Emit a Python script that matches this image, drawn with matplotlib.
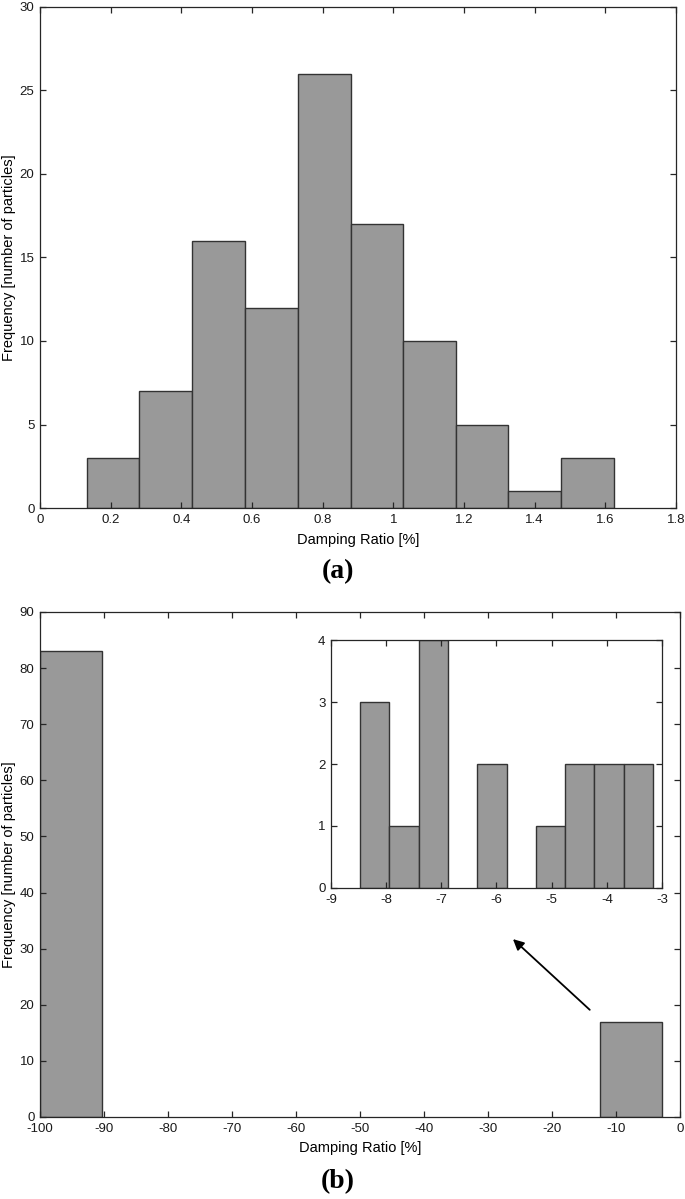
import numpy as np
import matplotlib
matplotlib.use("Agg")
import matplotlib.pyplot as plt

plt.rcParams['font.family'] = ['Liberation Sans', 'DejaVu Sans']
plt.rcParams['axes.unicode_minus'] = False

# (a) positive damping ratios: 10 bins
a_edges = [0.132, 0.281, 0.431, 0.580, 0.729, 0.879, 1.026, 1.177, 1.325, 1.475, 1.625]
a_counts = [3, 7, 16, 12, 26, 17, 10, 5, 1, 3]

# (b) negative damping ratios: 10 bins, only first and last filled
b_edges = [-100.0, -90.28, -80.56, -70.84, -61.12, -51.40, -41.68, -31.96, -22.24, -12.52, -2.8]
b_counts = [83, 0, 0, 0, 0, 0, 0, 0, 0, 17]

# inset: zoom on the last bin of (b)
c_edges = [-8.474, -7.943, -7.41, -6.874, -6.35, -5.815, -5.284, -4.753, -4.227, -3.695, -3.158]
c_counts = [3, 1, 4, 0, 2, 0, 1, 2, 2, 2]

BAR = '#999999'
EDGE = '#333333'
FRAME = '#262626'


def hist_bars(ax, edges, counts):
    edges = np.asarray(edges)
    counts = np.asarray(counts)
    keep = counts > 0
    ax.bar(edges[:-1][keep], counts[keep], width=np.diff(edges)[keep], align='edge',
           color=BAR, edgecolor=EDGE, linewidth=1.0)


def style(ax, size=9.5):
    for s in ax.spines.values():
        s.set_color(FRAME)
        s.set_linewidth(0.9)
    ax.tick_params(direction='in', top=True, right=True, length=4, width=0.9,
                   color=FRAME, labelsize=size, labelcolor='#1a1a1a', pad=4)


fig = plt.figure(figsize=(6.85, 11.99), dpi=100)

# ---- (a)
ax1 = fig.add_axes([0.0584, 0.5763, 0.9285, 0.4179])
hist_bars(ax1, a_edges, a_counts)
ax1.set_xlim(0, 1.8)
ax1.set_ylim(0, 30)
ax1.set_xticks(np.arange(0, 1.81, 0.2))
ax1.set_xticklabels(['0', '0.2', '0.4', '0.6', '0.8', '1', '1.2', '1.4', '1.6', '1.8'])
ax1.set_yticks(np.arange(0, 31, 5))
style(ax1)
ax1.set_xlabel('Damping Ratio [%]', fontsize=10.5, labelpad=5)
ax1.set_ylabel('Frequency [number of particles]', fontsize=10.5)
ax1.yaxis.set_label_coords(-0.037, 0.5)
fig.text(0.493, 1 - 572 / 1199, '(a)', ha='center', va='center',
         family='Liberation Serif', weight='bold', fontsize=20)

# ---- (b)
ax2 = fig.add_axes([0.0584, 0.0684, 0.9343, 0.4212])
hist_bars(ax2, b_edges, b_counts)
ax2.set_xlim(-100, 0)
ax2.set_ylim(0, 90)
ax2.set_xticks(np.arange(-100, 1, 10))
ax2.set_yticks(np.arange(0, 91, 10))
style(ax2)
ax2.set_xlabel('Damping Ratio [%]', fontsize=10.5, labelpad=5)
ax2.set_ylabel('Frequency [number of particles]', fontsize=10.5)
ax2.yaxis.set_label_coords(-0.037, 0.5)
ax2.annotate('', xy=(-26.1, 31.7), xytext=(-14.1, 19.1),
             arrowprops=dict(arrowstyle='-|>', color='black', lw=1.3,
                             mutation_scale=16, shrinkA=0, shrinkB=0))
fig.text(0.493, 1 - 1182 / 1199, '(b)', ha='center', va='center',
         family='Liberation Serif', weight='bold', fontsize=20)

# ---- inset
ax3 = fig.add_axes([0.4832, 0.2594, 0.4832, 0.2068])
hist_bars(ax3, c_edges, c_counts)
ax3.set_xlim(-9, -3)
ax3.set_ylim(0, 4)
ax3.set_xticks(np.arange(-9, -2.9, 1))
ax3.set_yticks(np.arange(0, 5, 1))
style(ax3)

fig.savefig('out.png', dpi=100)
